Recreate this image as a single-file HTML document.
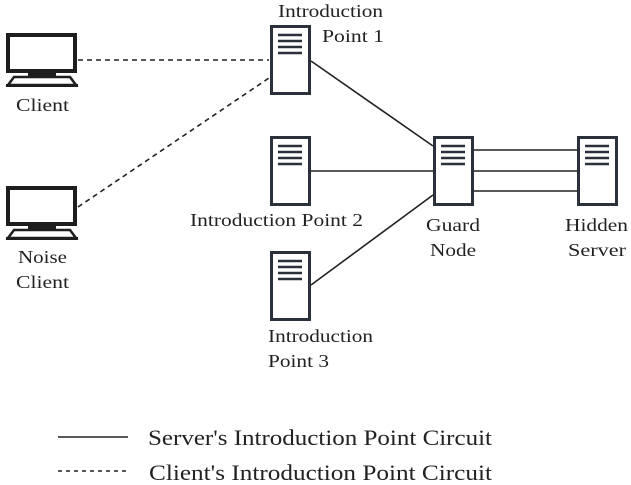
<!DOCTYPE html>
<html><head><style>body{margin:0;background:#fff}svg{display:block}</style></head><body>
<svg width="631" height="485" viewBox="0 0 631 485" xmlns="http://www.w3.org/2000/svg">
<defs>
<g id="srv">
<rect x="1.5" y="1.5" width="38" height="67" fill="#fff" stroke="#2b313b" stroke-width="3"/>
<g stroke="#2b313b" stroke-width="2.5"><line x1="8" y1="10" x2="32" y2="10"/><line x1="8" y1="16" x2="32" y2="16"/><line x1="8" y1="22" x2="32" y2="22"/><line x1="8" y1="28" x2="32" y2="28"/></g>
</g>
<g id="mon">
<rect x="8" y="35" width="67" height="36" fill="#fff" stroke="#1e1e1e" stroke-width="4"/>
<rect x="28" y="72" width="28" height="5" fill="#1e1e1e"/>
<path d="M14 77 L70 77 L76 85 L8 85 Z" fill="#fff" stroke="#1e1e1e" stroke-width="2.5"/>
<rect x="6" y="84" width="72" height="3" fill="#1e1e1e"/>
</g>
</defs>
<g stroke="#222" stroke-width="1.6" fill="none">
<line x1="78" y1="60" x2="269" y2="60" stroke-dasharray="5,4"/>
<line x1="78" y1="207" x2="269" y2="78" stroke-dasharray="5,4"/>
<line x1="311" y1="61" x2="433" y2="146"/>
<line x1="311" y1="171" x2="433" y2="171"/>
<line x1="311" y1="285" x2="433" y2="195"/>
<line x1="473" y1="150" x2="577" y2="150"/>
<line x1="473" y1="171" x2="577" y2="171"/>
<line x1="473" y1="191" x2="577" y2="191"/>
<line x1="58" y1="437" x2="128" y2="437"/>
<line x1="58" y1="471" x2="128" y2="471" stroke-dasharray="4,4"/>
</g>
<use href="#mon" x="0" y="0"/>
<use href="#mon" x="0" y="153"/>
<use href="#srv" x="270" y="25"/>
<use href="#srv" x="270" y="136"/>
<use href="#srv" x="270" y="251"/>
<use href="#srv" x="433" y="136"/>
<use href="#srv" x="577" y="136"/>
<g font-family="Liberation Serif, serif" font-size="18" fill="#222">
<text x="278" y="17" textLength="105" lengthAdjust="spacingAndGlyphs">Introduction</text>
<text x="322" y="42" textLength="62" lengthAdjust="spacingAndGlyphs">Point 1</text>
<text x="16" y="111" textLength="53" lengthAdjust="spacingAndGlyphs">Client</text>
<text x="18" y="263" textLength="49" lengthAdjust="spacingAndGlyphs">Noise</text>
<text x="16" y="288" textLength="53" lengthAdjust="spacingAndGlyphs">Client</text>
<text x="190" y="226" textLength="173" lengthAdjust="spacingAndGlyphs">Introduction Point 2</text>
<text x="268" y="342" textLength="105" lengthAdjust="spacingAndGlyphs">Introduction</text>
<text x="268" y="367" textLength="61" lengthAdjust="spacingAndGlyphs">Point 3</text>
<text x="426" y="231" textLength="54" lengthAdjust="spacingAndGlyphs">Guard</text>
<text x="430" y="256" textLength="46" lengthAdjust="spacingAndGlyphs">Node</text>
<text x="565" y="231" textLength="63" lengthAdjust="spacingAndGlyphs">Hidden</text>
<text x="568" y="256" textLength="58" lengthAdjust="spacingAndGlyphs">Server</text>
<text x="148" y="445" font-size="22" textLength="344" lengthAdjust="spacingAndGlyphs">Server's Introduction Point Circuit</text>
<text x="149" y="480" font-size="22" textLength="343" lengthAdjust="spacingAndGlyphs">Client's Introduction Point Circuit</text>
</g>
</svg>
</body></html>
